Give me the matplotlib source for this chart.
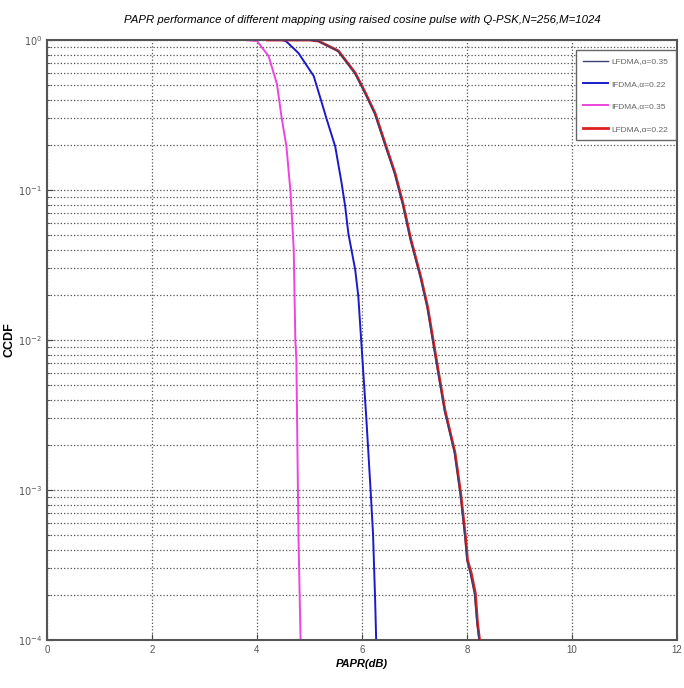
import matplotlib.pyplot as plt
import numpy as np

# PAPR (dB) vs CCDF
papr_ifdma_035 = [3.2, 3.75, 4.00, 4.22, 4.38, 4.47, 4.56, 4.64, 4.70, 4.73, 4.75, 4.79, 4.83]
ccdf_ifdma_035 = [1.0, 1.0, 0.984, 0.782, 0.509, 0.302, 0.196, 0.0955, 0.0398, 0.010, 0.0074, 0.00049, 0.0001]

papr_ifdma_022 = [3.6, 4.47, 4.55, 4.79, 5.08, 5.21, 5.32, 5.49, 5.61, 5.68, 5.74, 5.87, 5.93,
                  5.98, 6.08, 6.16, 6.21, 6.25, 6.27]
ccdf_ifdma_022 = [1.0, 1.0, 0.984, 0.818, 0.575, 0.407, 0.302, 0.195, 0.112, 0.0776, 0.0513,
                  0.0295, 0.0195, 0.0105, 0.0031, 0.00105, 0.00051, 0.000186, 0.0001]

papr_lfdma_022 = [4.2, 5.0, 5.17, 5.55, 5.87, 6.06, 6.25, 6.44, 6.63, 6.78, 6.93, 7.12, 7.25,
                  7.44, 7.58, 7.77, 7.88, 7.97, 8.01, 8.08, 8.16, 8.20, 8.24]
ccdf_lfdma_022 = [1.0, 1.0, 0.984, 0.845, 0.603, 0.447, 0.324, 0.204, 0.129, 0.0813, 0.0468,
                  0.0263, 0.0166, 0.0066, 0.0034, 0.00178, 0.00095, 0.00049, 0.00034, 0.00028,
                  0.000204, 0.00013, 0.0001]

# LFDMA alpha=0.35 lies almost on top of the red curve
papr_lfdma_035 = [4.2, 5.0, 5.16, 5.54, 5.86, 6.05, 6.24, 6.43, 6.62, 6.77, 6.92, 7.11, 7.24,
                  7.43, 7.57, 7.76, 7.87, 7.96, 8.00, 8.06, 8.14, 8.19, 8.23]
ccdf_lfdma_035 = ccdf_lfdma_022

labels = ['LFDMA,\u03b1=0.35', 'IFDMA,\u03b1=0.22', 'IFDMA,\u03b1=0.35', 'LFDMA,\u03b1=0.22']

plt.rcParams['font.family'] = ['Liberation Sans Narrow', 'Liberation Sans', 'DejaVu Sans']

fig = plt.figure(figsize=(6.84, 6.88), dpi=100)
ax = fig.add_axes([47 / 684, 1 - 640 / 688, (677 - 47) / 684, (640 - 40) / 688])

h1, = ax.plot(papr_lfdma_035, ccdf_lfdma_035, color='#3a3f6e', lw=1.0, zorder=5)
h2, = ax.plot(papr_ifdma_022, ccdf_ifdma_022, color='#1a1acc', lw=1.4)
h3, = ax.plot(papr_ifdma_035, ccdf_ifdma_035, color='#ee44dd', lw=1.4)
h4, = ax.plot(papr_lfdma_022, ccdf_lfdma_022, color='#dd2020', lw=2.0, zorder=4)

ax.set_yscale('log')
ax.set_xlim(0, 12)
ax.set_ylim(1e-4, 1)
ax.set_xticks(np.arange(0, 13, 2))
ax.set_xticklabels([str(v) for v in range(0, 13, 2)])
ax.set_yticks([1e-4, 1e-3, 1e-2, 1e-1, 1])
ax.set_yticklabels(['$10^{-4}$', '$10^{-3}$', '$10^{-2}$', '$10^{-1}$', '$10^{0}$'])

ax.grid(True, which='major', axis='both', linestyle=':', color='#555555', lw=0.9)
ax.grid(True, which='minor', axis='y', linestyle=':', color='#555555', lw=0.9)
ax.tick_params(which='both', direction='in', labelsize=7, colors='#444444', length=4)
ax.tick_params(which='minor', length=2)
ax.tick_params(axis='both', labelcolor='#555555')
for s in ax.spines.values():
    s.set_color('#555555')
    s.set_linewidth(1.5)

ax.set_title('PAPR performance of different mapping using raised cosine pulse with Q-PSK,N=256,M=1024',
             fontsize=8.2, style='italic', pad=12)
ax.set_xlabel('PAPR(dB)', fontsize=8, fontweight='bold', style='italic', labelpad=3)
ax.set_ylabel('CCDF', fontsize=9, fontweight='bold', labelpad=2)

leg = ax.legend([h1, h2, h3, h4], labels, loc='upper right', fontsize=6,
                bbox_to_anchor=(1.005, 0.99), handlelength=3.0, labelspacing=1.75,
                fancybox=False, framealpha=1, borderpad=0.9, handletextpad=0.4)
leg.get_frame().set_edgecolor('#666666')
for t in leg.get_texts():
    t.set_color('#666666')

fig.savefig('out.png', dpi=100)
